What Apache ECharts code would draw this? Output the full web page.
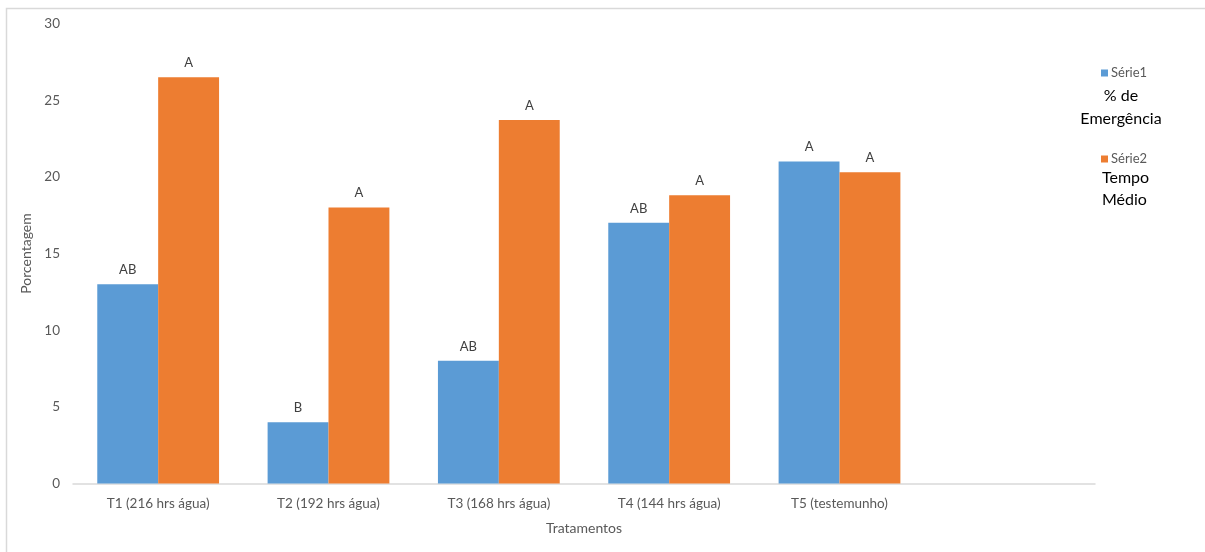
<!DOCTYPE html>
<html>
<head>
<meta charset="utf-8">
<script src="https://cdn.jsdelivr.net/npm/echarts@6/dist/echarts.min.js"></script>
<style>
html,body{margin:0;padding:0;background:#fff;}
#chart{width:1205px;height:552px;}
</style>
</head>
<body>
<div id="chart"></div>
<script>
var categories = ['T1 (216 hrs água)', 'T2 (192 hrs água)', 'T3 (168 hrs água)', 'T4 (144 hrs água)', 'T5 (testemunho)', ''];
var serie1 = [13, 4, 8, 17, 21, null];
var serie2 = [26.5, 18, 23.7, 18.8, 20.3, null];
var labels1 = ['AB', 'B', 'AB', 'AB', 'A', ''];
var labels2 = ['A', 'A', 'A', 'A', 'A', ''];
var yTicks = [0, 5, 10, 15, 20, 25, 30];
var seriesNames = ['Série1', 'Série2'];
var legendNotes = ['% de\nEmergência', 'Tempo\nMédio'];

var FONT = 'Lato, "Open Sans", sans-serif';
var chart = echarts.init(document.getElementById('chart'), null, {renderer: 'canvas'});
chart.setOption({
  animation: false,
  backgroundColor: '#fff',
  textStyle: {fontFamily: FONT},
  grid: {left: 73, right: 110, top: 23.5, bottom: 68.5, containLabel: false},
  legend: {
    orient: 'vertical', left: 1096, top: 61,
    itemWidth: 7, itemHeight: 7, itemGap: 72,
    icon: 'rect',
    textStyle: {color: '#595959', fontSize: 13, fontFamily: FONT, lineHeight: 14, padding: [0,0,0,-2]},
    data: seriesNames
  },
  graphic: [
    {type: 'rect', left: 4, top: 6, shape: {width: 1220, height: 560}, style: {fill: 'none', stroke: '#d9d9d9', lineWidth: 1.5}, silent: true},
    {type: 'text', x: 1121, y: 84, style: {text: legendNotes[0], fill: '#000', font: '16px ' + FONT, textAlign: 'center', lineHeight: 23}, z: 10},
    {type: 'text', left: 1102, top: 167, style: {text: legendNotes[1], fill: '#000', font: '16px ' + FONT, lineHeight: 22}, z: 10}
  ],
  xAxis: {
    type: 'category', data: categories,
    name: 'Tratamentos', nameLocation: 'middle', nameGap: 38,
    nameTextStyle: {color: '#595959', fontSize: 14, fontFamily: FONT},
    axisLine: {lineStyle: {color: '#d9d9d9', width: 1.5}},
    axisTick: {show: false},
    axisLabel: {color: '#595959', fontSize: 13.5, margin: 13, fontFamily: FONT}
  },
  yAxis: {
    type: 'value', min: 0, max: 30, interval: 5,
    name: 'Porcentagem', nameLocation: 'middle', nameGap: 36,
    nameTextStyle: {color: '#595959', fontSize: 14, fontFamily: FONT},
    axisLine: {show: false}, axisTick: {show: false},
    splitLine: {show: false},
    axisLabel: {color: '#595959', fontSize: 13.5, margin: 13, fontFamily: FONT,
      formatter: function(v){ return yTicks.indexOf(v) >= 0 ? String(v) : ''; }}
  },
  series: [
    {
      name: seriesNames[0], type: 'bar', data: serie1,
      barGap: '0%', barCategoryGap: '28.5%',
      itemStyle: {color: '#5B9BD5'},
      label: {show: true, position: 'top', distance: 8, color: '#404040', fontSize: 13, fontFamily: FONT,
        formatter: function(p){ return labels1[p.dataIndex]; }}
    },
    {
      name: seriesNames[1], type: 'bar', data: serie2,
      itemStyle: {color: '#ED7D31'},
      label: {show: true, position: 'top', distance: 8, color: '#404040', fontSize: 13, fontFamily: FONT,
        formatter: function(p){ return labels2[p.dataIndex]; }}
    }
  ]
});
</script>
</body>
</html>
